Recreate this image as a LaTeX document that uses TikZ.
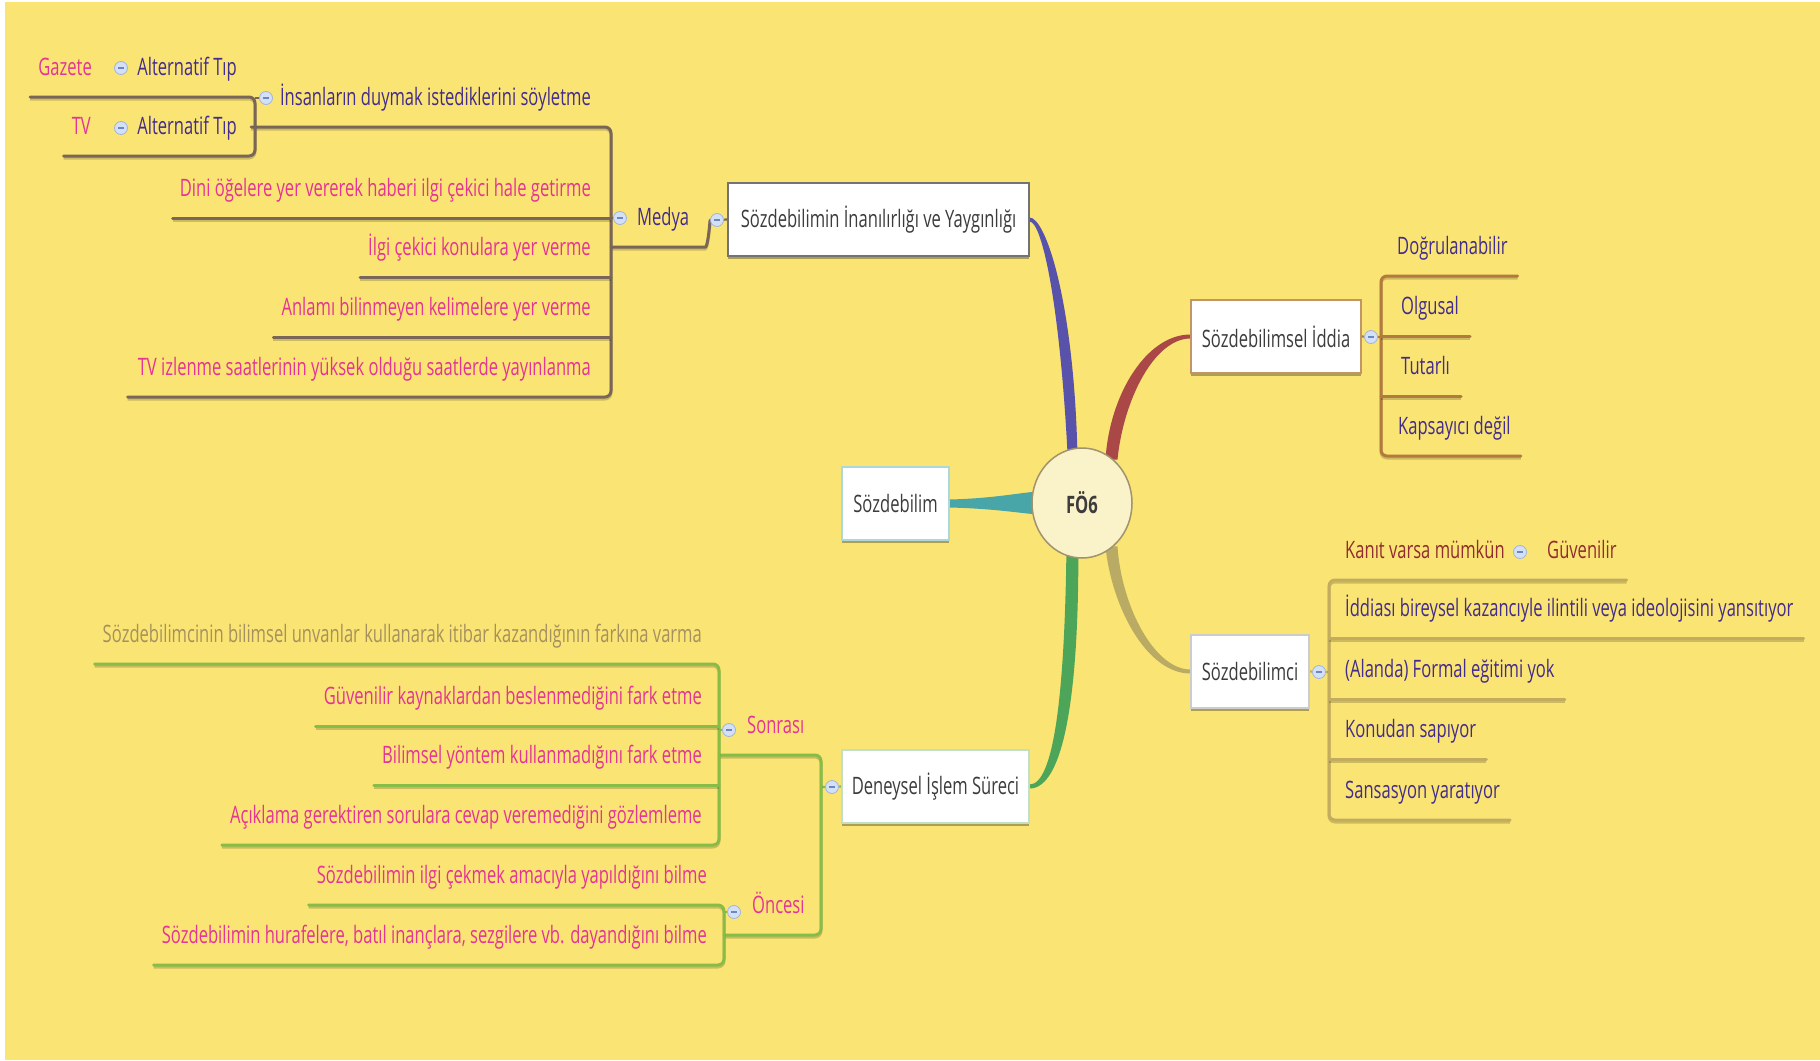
\documentclass[tikz,border=0pt]{standalone}
\usepackage{fontspec}
\setmainfont{Open Sans}[FakeStretch=0.69]
\usetikzlibrary{shapes.geometric,calc,shadows}

\definecolor{bgyel}{RGB}{250,228,115}
\definecolor{pinkt}{RGB}{228,52,150}
\definecolor{bluet}{RGB}{66,44,140}
\definecolor{redt}{RGB}{145,45,50}
\definecolor{olivet}{RGB}{165,145,95}
\definecolor{boxt}{RGB}{60,60,60}
\definecolor{lnmed}{RGB}{122,102,88}
\definecolor{lnidd}{RGB}{178,122,62}
\definecolor{lnsci}{RGB}{196,172,95}
\definecolor{lngrn}{RGB}{135,188,70}
\definecolor{cblue}{RGB}{88,82,170}
\definecolor{cred}{RGB}{170,72,72}
\definecolor{colive}{RGB}{185,170,100}
\definecolor{cgreen}{RGB}{76,165,88}
\definecolor{cteal}{RGB}{72,165,168}
\definecolor{fofill}{RGB}{250,242,200}
\definecolor{fodraw}{RGB}{160,148,110}
\definecolor{mkfill}{RGB}{212,224,245}
\definecolor{mkdraw}{RGB}{160,180,220}
\definecolor{mkbar}{RGB}{110,135,195}

\newcommand\topicfont{\fontsize{24}{28}\selectfont}
\newcommand\boxfont{\fontsize{24}{29}\selectfont}

\pgfdeclarelayer{back}
\pgfdeclarelayer{conn}
\pgfsetlayers{back,conn,main}

\begin{document}
\begin{tikzpicture}[x=1pt,y=-1pt,
  topicbox/.style={draw=#1, line width=1.2pt, fill=white, text=boxt,
    font=\boxfont, inner sep=0pt, minimum height=73pt,
    drop shadow={shadow xshift=0pt,shadow yshift=-3pt,fill=black,opacity=0.3}},
  topic/.style={font=\topicfont, inner sep=0pt, text height=18pt, text depth=21pt},
  lt/.style={topic, anchor=south east},
  rt/.style={topic, anchor=south west},
  marker/.style={circle, minimum size=13pt, inner sep=0pt, fill=mkfill,
    draw=mkdraw, line width=0.8pt,
    path picture={\draw[mkbar, line width=1.3pt]
      ($(path picture bounding box.center)+(-2.6,0)$) -- ++(5.2,0);}},
  uline/.style={line width=3pt, line cap=round, rounded corners=6pt, draw=#1,
    preaction={draw=black, opacity=0.18, line width=3pt,
      transform canvas={yshift=-2pt}}},
  stub/.style={line width=2.2pt, draw=#1}
]
\useasboundingbox (0,0) rectangle (1820,1060);
\begin{pgfonlayer}{back}
  \fill[white] (0,0) rectangle (1820,1060);
  \fill[bgyel] (5,2) rectangle (1820,1060);
\end{pgfonlayer}

% ---------- central topic and main boxes ----------
\node[ellipse, minimum width=100pt, minimum height=110pt, fill=fofill,
  draw=fodraw, line width=1.5pt, font=\boxfont\bfseries, text=boxt]
  (fo) at (1082,503) {FÖ6};
\node[topicbox={black!55}, minimum width=301pt] (sib) at (878.5,219.5)
  {Sözdebilimin İnanılırlığı ve Yaygınlığı};
\node[topicbox={cteal!45}, minimum width=107pt] (sb) at (895.5,503.5) {Sözdebilim};
\node[topicbox={cgreen!35}, minimum width=187pt] (den) at (935.5,786.5)
  {Deneysel İşlem Süreci};
\node[topicbox={lnidd!80}, minimum width=170pt] (sid) at (1276,336.5)
  {Sözdebilimsel İddia};
\node[topicbox={black!20}, minimum width=118pt] (sci) at (1250,671.5) {Sözdebilimci};

% ---------- tapered main branches ----------
\begin{pgfonlayer}{conn}
  \fill[cblue] ($(sib.east)+(0,-2)$) .. controls +(16,0) and +(-4,-150) ..
    ($(fo.100)+(5,2)$) -- ($(fo.100)+(-5,2)$) .. controls +(-8,-150) and +(12,0) ..
    ($(sib.east)+(0,2)$) -- cycle;
  \fill[cred] ($(fo.57)+(-6,2)$) .. controls +(4,-65) and +(-44,0) ..
    ($(sid.west)+(0,-2)$) -- ($(sid.west)+(0,2)$) .. controls +(-36,0) and +(6,-60) ..
    ($(fo.57)+(6,2)$) -- cycle;
  \fill[colive] ($(fo.-57)+(6,-2)$) .. controls +(4,60) and +(-36,0) ..
    ($(sci.west)+(0,-2)$) -- ($(sci.west)+(0,2)$) .. controls +(-44,0) and +(6,60) ..
    ($(fo.-57)+(-6,-2)$) -- cycle;
  \fill[cgreen] ($(fo.-100)+(6,-2)$) .. controls +(0,140) and +(34,0) ..
    ($(den.east)+(0,2)$) -- ($(den.east)+(0,-2)$) .. controls +(24,0) and +(-2,140) ..
    ($(fo.-100)+(-6,-2)$) -- cycle;
  \fill[cteal] ($(sb.east)+(0,-4)$) .. controls +(40,-1) and +(-20,2) ..
    ($(fo.west)+(1,-11)$) -- ($(fo.west)+(1,11)$) .. controls +(-20,-2) and +(40,1) ..
    ($(sb.east)+(0,4)$) -- cycle;
\end{pgfonlayer}

% ---------- Medya branch (left, top) ----------
\coordinate (mb) at (611,0);
\coordinate (ib) at (255,0);
\node[marker] (sibm) at (717,220) {};
\node[rt, text=bluet] (medya) at (637,247) {Medya};
\node[marker] (mm) at (620,218) {};
\node[lt, text=bluet] (ins) at (591,127) {İnsanların duymak istediklerini söyletme};
\node[lt, text=pinkt] (dini) at (591,218) {Dini öğelere yer vererek haberi ilgi çekici hale getirme};
\node[lt, text=pinkt] (ilg) at (591,277) {İlgi çekici konulara yer verme};
\node[lt, text=pinkt] (anl) at (591,337) {Anlamı bilinmeyen kelimelere yer verme};
\node[lt, text=pinkt] (tvi) at (591,397) {TV izlenme saatlerinin yüksek olduğu saatlerde yayınlanma};
\node[marker] (im) at (266,98) {};
\node[lt, text=bluet] (alt1) at (237,97) {Alternatif Tıp};
\node[lt, text=bluet] (alt2) at (237,156) {Alternatif Tıp};
\node[marker] (a1m) at (121,68) {};
\node[marker] (a2m) at (121,128) {};
\node[lt, text=pinkt] (gaz) at (92,97) {Gazete};
\node[lt, text=pinkt] (tvn) at (91,156) {TV};

\begin{pgfonlayer}{conn}
  \draw[stub=lnmed] (sibm) -- (sib.west);
  \draw[uline=lnmed] (medya.south -| mb) -- ([xshift=10pt]medya.south east)
    .. controls +(8,0) and +(-1,12) .. (sibm.west);
  \draw[stub=lnmed] (mm) -- (mm -| mb);
  \draw[uline=lnmed] ([xshift=-8pt]ins.south west -| im.west) -- (ins.south -| mb)
    -- (tvi.south -| mb) -- ([xshift=-10pt]tvi.south west);
  \draw[uline=lnmed] ([xshift=-7pt]dini.south west) -- (dini.south -| mb);
  \draw[uline=lnmed] ([xshift=-8pt]ilg.south west) -- (ilg.south -| mb);
  \draw[uline=lnmed] ([xshift=-8pt]anl.south west) -- (anl.south -| mb);
  \draw[stub=lnmed] (im) -- (im -| ib);
  \draw[uline=lnmed] ([xshift=-8pt]gaz.south west) -- (alt1.south -| ib)
    -- (alt2.south -| ib) -- ([xshift=-8pt]tvn.south west);
\end{pgfonlayer}

% ---------- Sözdebilimsel İddia branch (right, top) ----------
\coordinate (rb1) at (1381,0);
\node[marker] (sidm) at (1371,337) {};
\node[rt, text=bluet] (dog) at (1397,276) {Doğrulanabilir};
\node[rt, text=bluet] (olg) at (1401,336) {Olgusal};
\node[rt, text=bluet] (tut) at (1401,396) {Tutarlı};
\node[rt, text=bluet] (kap) at (1398,456) {Kapsayıcı değil};
\begin{pgfonlayer}{conn}
  \draw[stub=lnidd] (sid.east) -- (sidm) -- (sidm -| rb1);
  \draw[uline=lnidd] ([xshift=10pt]dog.south east) -- (dog.south -| rb1)
    -- (kap.south -| rb1) -- ([xshift=10pt]kap.south east);
  \draw[uline=lnidd] (olg.south -| rb1) -- ([xshift=11pt]olg.south east);
  \draw[uline=lnidd] (tut.south -| rb1) -- ([xshift=11pt]tut.south east);
\end{pgfonlayer}

% ---------- Sözdebilimci branch (right, bottom) ----------
\coordinate (rb2) at (1329,0);
\node[marker] (scim) at (1319,672) {};
\node[rt, text=redt] (kan) at (1345,580) {Kanıt varsa mümkün};
\node[marker] (kanm) at (1520,552) {};
\node[rt, text=redt] (guv) at (1547,580) {Güvenilir};
\node[rt, text=bluet] (idd) at (1345,638) {İddiası bireysel kazancıyle ilintili veya ideolojisini yansıtıyor};
\node[rt, text=bluet] (ala) at (1345,699) {(Alanda) Formal eğitimi yok};
\node[rt, text=bluet] (kon) at (1345,759) {Konudan sapıyor};
\node[rt, text=bluet] (san) at (1345,820) {Sansasyon yaratıyor};
\begin{pgfonlayer}{conn}
  \draw[stub=lnsci] (sci.east) -- (scim) -- (scim -| rb2);
  \draw[uline=lnsci] ([xshift=10pt]guv.south east) -- (kan.south -| rb2)
    -- (san.south -| rb2) -- ([xshift=10pt]san.south east);
  \draw[uline=lnsci] (idd.south -| rb2) -- ([xshift=10pt]idd.south east);
  \draw[uline=lnsci] (ala.south -| rb2) -- ([xshift=10pt]ala.south east);
  \draw[uline=lnsci] (kon.south -| rb2) -- ([xshift=10pt]kon.south east);
\end{pgfonlayer}

% ---------- Deneysel İşlem Süreci branch (left, bottom) ----------
\coordinate (db) at (821,0);
\coordinate (sb2) at (719,0);
\coordinate (ob2) at (724,0);
\node[marker] (denm) at (832,787) {};
\node[rt, text=pinkt] (son) at (747,755) {Sonrası};
\node[marker] (sonm) at (729,730) {};
\node[rt, text=pinkt] (onc) at (752,935) {Öncesi};
\node[marker] (oncm) at (734,912) {};
\node[lt, text=olivet] (sdc) at (702,664) {Sözdebilimcinin bilimsel unvanlar kullanarak itibar kazandığının farkına varma};
\node[lt, text=pinkt] (guk) at (702,726) {Güvenilir kaynaklardan beslenmediğini fark etme};
\node[lt, text=pinkt] (bil) at (702,785) {Bilimsel yöntem kullanmadığını fark etme};
\node[lt, text=pinkt] (ack) at (702,845) {Açıklama gerektiren sorulara cevap veremediğini gözlemleme};
\node[lt, text=pinkt] (ilc) at (707,905) {Sözdebilimin ilgi çekmek amacıyla yapıldığını bilme};
\node[lt, text=pinkt] (hur) at (707,965) {Sözdebilimin hurafelere, batıl inançlara, sezgilere vb. dayandığını bilme};
\begin{pgfonlayer}{conn}
  \draw[stub=lngrn] (den.west) -- (denm) -- (denm -| db);
  \draw[uline=lngrn] (son.south -| sb2) -- (son.south -| db)
    -- (onc.south -| db) -- (onc.south -| ob2);
  \draw[stub=lngrn] (sonm) -- (sonm -| sb2);
  \draw[stub=lngrn] (oncm) -- (oncm -| ob2);
  \draw[uline=lngrn] ([xshift=-8pt]sdc.south west) -- (sdc.south -| sb2)
    -- (ack.south -| sb2) -- ([xshift=-8pt]ack.south west);
  \draw[uline=lngrn] ([xshift=-8pt]guk.south west) -- (guk.south -| sb2);
  \draw[uline=lngrn] ([xshift=-8pt]bil.south west) -- (bil.south -| sb2);
  \draw[uline=lngrn] ([xshift=-8pt]ilc.south west) -- (ilc.south -| ob2)
    -- (hur.south -| ob2) -- ([xshift=-8pt]hur.south west);
\end{pgfonlayer}
\end{tikzpicture}
\end{document}
